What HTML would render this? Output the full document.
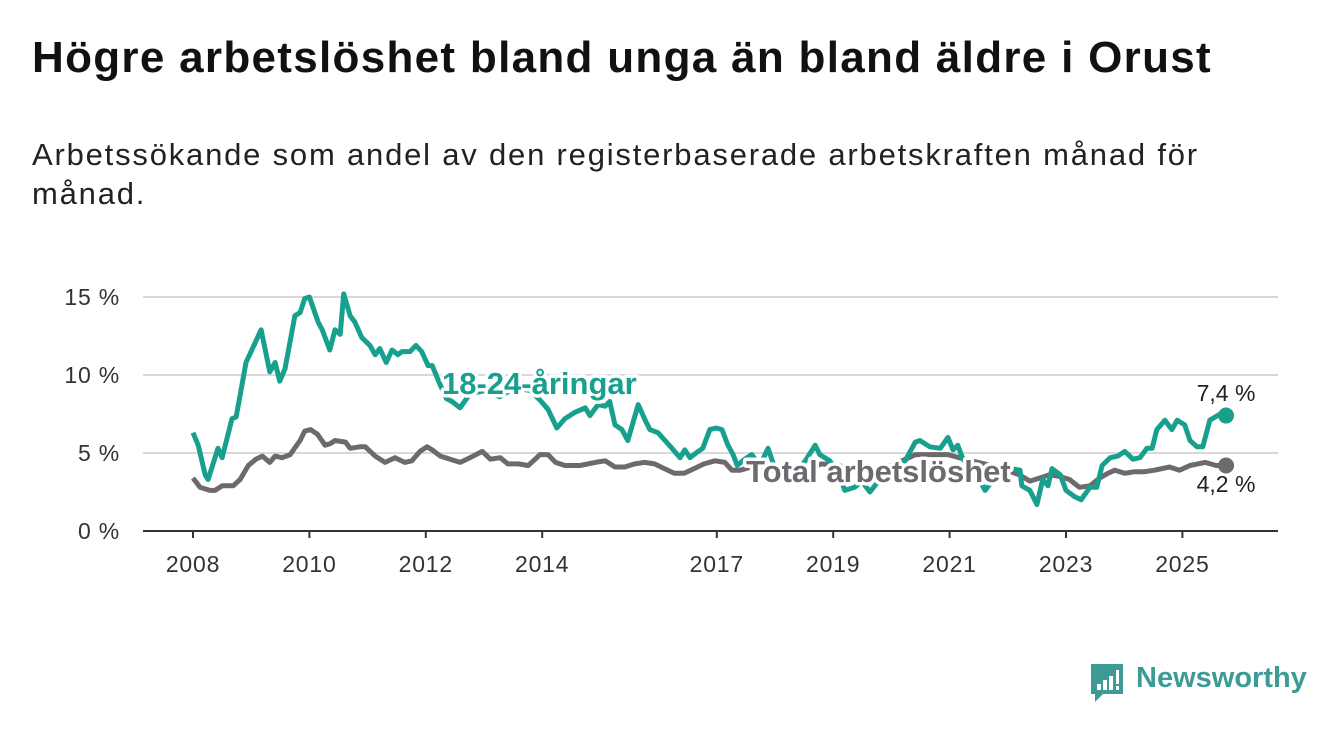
<!DOCTYPE html>
<html><head><meta charset="utf-8"><style>
body{margin:0;background:#fff;width:1340px;height:734px;overflow:hidden;font-family:"Liberation Sans",sans-serif;}
h1{position:absolute;left:32px;top:33px;margin:0;font-size:44px;font-weight:bold;color:#111;letter-spacing:1.3px}
.sub{position:absolute;left:32px;top:135px;margin:0;font-size:31px;line-height:39px;color:#222;width:1290px;letter-spacing:1.8px}
svg{position:absolute;left:0;top:0}
</style></head><body>
<h1>Högre arbetslöshet bland unga än bland äldre i Orust</h1>
<p class="sub">Arbetssökande som andel av den registerbaserade arbetskraften månad för<br>månad.</p>
<svg id="chart" width="1340" height="734"></svg>
<div style="position:absolute;left:1089px;top:662px;">
<svg width="36" height="42" style="position:absolute;left:0;top:0"><path d="M2 2h32v30H14l-8 8v-8H2z" fill="#3d9b95"/><rect x="8" y="22" width="4" height="6" fill="#fff"/><rect x="14" y="18" width="4" height="10" fill="#fff"/><rect x="20" y="14" width="4" height="14" fill="#fff"/><rect x="27" y="8" width="3" height="14" fill="#fff"/><rect x="27" y="24" width="3" height="4" fill="#fff"/></svg>
<span style="position:absolute;left:47px;top:0;font-size:29px;font-weight:bold;color:#3d9b95;white-space:nowrap">Newsworthy</span></div>
<script>
const youthYears=[2008.00,2008.09,2008.21,2008.26,2008.43,2008.50,2008.67,2008.74,2008.81,2008.91,2009.01,2009.17,2009.32,2009.41,2009.49,2009.58,2009.75,2009.84,2009.92,2010.0,2010.15,2010.22,2010.35,2010.44,2010.53,2010.59,2010.70,2010.78,2010.90,2011.04,2011.13,2011.21,2011.32,2011.42,2011.52,2011.59,2011.73,2011.83,2011.93,2012.04,2012.11,2012.21,2012.35,2012.45,2012.59,2012.76,2013.02,2013.27,2013.53,2013.79,2013.96,2014.10,2014.25,2014.39,2014.56,2014.74,2014.82,2014.96,2015.08,2015.16,2015.25,2015.37,2015.47,2015.65,2015.77,2015.85,2015.99,2016.11,2016.23,2016.37,2016.45,2016.54,2016.68,2016.76,2016.88,2016.99,2017.09,2017.19,2017.28,2017.35,2017.48,2017.60,2017.74,2017.88,2018.0,2018.17,2018.34,2018.52,2018.69,2018.77,2018.94,2019.08,2019.20,2019.37,2019.49,2019.63,2019.80,2019.98,2020.15,2020.41,2020.49,2020.66,2020.84,2020.97,2021.06,2021.14,2021.23,2021.44,2021.61,2021.87,2022.04,2022.21,2022.24,2022.38,2022.50,2022.60,2022.69,2022.76,2022.90,2023.0,2023.15,2023.26,2023.41,2023.53,2023.62,2023.76,2023.89,2024.01,2024.15,2024.27,2024.39,2024.48,2024.56,2024.70,2024.82,2024.91,2025.04,2025.13,2025.25,2025.35,2025.47,2025.65,2025.75];
const youthValues=[6.3,5.5,3.6,3.3,5.3,4.7,7.2,7.3,8.7,10.8,11.6,12.9,10.2,10.8,9.6,10.4,13.8,14.0,14.9,15.0,13.4,12.9,11.6,12.9,12.6,15.2,13.8,13.4,12.4,11.9,11.3,11.7,10.8,11.6,11.3,11.5,11.5,11.9,11.5,10.6,10.6,9.7,8.5,8.3,7.9,8.8,9.0,8.6,9.2,9.0,8.4,7.8,6.6,7.2,7.6,7.9,7.4,8.1,8.0,8.3,6.8,6.5,5.8,8.1,7.1,6.5,6.3,5.8,5.3,4.7,5.2,4.7,5.1,5.3,6.5,6.6,6.5,5.5,4.9,4.2,4.6,4.9,4.2,5.3,4.0,3.2,3.6,4.5,5.5,4.9,4.5,3.8,2.6,2.8,3.2,2.5,3.3,3.6,3.9,5.7,5.8,5.4,5.3,6.0,5.2,5.5,4.6,3.8,2.6,3.9,4.0,3.9,2.9,2.6,1.7,3.3,2.9,4.0,3.6,2.6,2.2,2.0,2.8,2.8,4.2,4.7,4.8,5.1,4.6,4.7,5.3,5.3,6.5,7.1,6.5,7.1,6.8,5.8,5.4,5.4,7.1,7.5,7.4];
const totalYears=[2008.00,2008.12,2008.29,2008.38,2008.50,2008.69,2008.81,2008.95,2009.08,2009.19,2009.32,2009.41,2009.53,2009.67,2009.84,2009.92,2010.02,2010.14,2010.27,2010.36,2010.44,2010.62,2010.70,2010.87,2010.96,2011.13,2011.30,2011.47,2011.64,2011.76,2011.90,2012.02,2012.11,2012.25,2012.42,2012.59,2012.76,2012.97,2013.11,2013.28,2013.41,2013.59,2013.76,2013.88,2013.96,2014.10,2014.23,2014.39,2014.48,2014.65,2014.91,2015.08,2015.25,2015.42,2015.59,2015.76,2015.93,2016.10,2016.27,2016.44,2016.61,2016.78,2016.97,2017.14,2017.26,2017.40,2017.60,2017.90,2018.2,2018.5,2018.8,2019.1,2019.4,2019.7,2020.0,2020.3,2020.41,2020.66,2020.97,2021.26,2021.6,2021.9,2022.2,2022.38,2022.55,2022.72,2022.89,2023.06,2023.23,2023.41,2023.58,2023.72,2023.84,2024.01,2024.18,2024.35,2024.52,2024.78,2024.95,2025.13,2025.39,2025.58,2025.75];
const totalValues=[3.4,2.8,2.6,2.6,2.9,2.9,3.3,4.2,4.6,4.8,4.4,4.8,4.7,4.9,5.8,6.4,6.5,6.2,5.5,5.6,5.8,5.7,5.3,5.4,5.4,4.8,4.4,4.7,4.4,4.5,5.1,5.4,5.2,4.8,4.6,4.4,4.7,5.1,4.6,4.7,4.3,4.3,4.2,4.6,4.9,4.9,4.4,4.2,4.2,4.2,4.4,4.5,4.1,4.1,4.3,4.4,4.3,4.0,3.7,3.7,4.0,4.3,4.5,4.4,3.9,3.9,4.1,3.9,3.8,3.9,4.3,4.2,3.9,4.0,4.2,4.7,4.9,4.9,4.9,4.6,4.3,4.0,3.6,3.2,3.4,3.6,3.5,3.3,2.8,2.9,3.4,3.7,3.9,3.7,3.8,3.8,3.9,4.1,3.9,4.2,4.4,4.2,4.2];
const yTicks=[0,5,10,15];
const yTickLabels=["0 %","5 %","10 %","15 %"];
const xTicks=[2008,2010,2012,2014,2017,2019,2021,2023,2025];
const xTickLabels=["2008","2010","2012","2014","2017","2019","2021","2023","2025"];
const NS="http://www.w3.org/2000/svg";
const svg=document.getElementById('chart');
const X=v=>193+(v-2008)*58.2;
const Y=v=>531-v*15.6;
function el(t,a,p){const e=document.createElementNS(NS,t);for(const k in a)e.setAttribute(k,a[k]);(p||svg).appendChild(e);return e;}
yTicks.forEach((t,i)=>{
 if(t>0){const g=el('line',{x1:143,x2:1278,y1:Y(t),y2:Y(t),stroke:'#d9d9d9','stroke-width':2});
 
 }
 const tx=el('text',{x:120,y:Y(t)+8,'text-anchor':'end','font-size':23,'letter-spacing':0.8,fill:'#333'});tx.textContent=yTickLabels[i];
 
 
});
const ax=el('line',{x1:143,x2:1278,y1:531,y2:531,stroke:'#333','stroke-width':2});


xTicks.forEach((t,i)=>{
 el('line',{x1:X(t),x2:X(t),y1:531,y2:538,stroke:'#333','stroke-width':2});
 const tx=el('text',{x:X(t),y:572,'text-anchor':'middle','font-size':23,'letter-spacing':0.8,fill:'#333'});tx.textContent=xTickLabels[i];
 
 
});
function line(xs,vs,color,name){
 const d=xs.map((x,i)=>(i?'L':'M')+X(x).toFixed(1)+' '+Y(vs[i]).toFixed(1)).join('');
 const p=el('path',{d:d,fill:'none',stroke:color,'stroke-width':5,'stroke-linejoin':'round'});
 
 
 const n=xs.length-1;
 const c=el('circle',{cx:X(xs[n]),cy:Y(vs[n]),r:8,fill:color});
 
 
}
line(totalYears,totalValues,'#6d6a6f','total-line');
line(youthYears,youthValues,'#17a08e','youth-line');
function label(x,y,txt,color,name,size,weight,anchor){
 const t=el('text',{x:x,y:y,'font-size':size,'font-weight':weight,fill:color,stroke:'#fff','stroke-width':weight=='bold'?7:5,'paint-order':'stroke','stroke-linejoin':'round','text-anchor':anchor||'start'});
 t.textContent=txt;
 
 
}
label(442,394,'18-24-åringar','#17a08e','youth-series-label',31,'bold');
label(746,482,'Total arbetslöshet','#6d6a6f','total-series-label',31,'bold');
label(1226,401,'7,4 %','#222','youth-end-value',23,'normal','middle');
label(1226,492,'4,2 %','#222','total-end-value',23,'normal','middle');
</script>
</body></html>
